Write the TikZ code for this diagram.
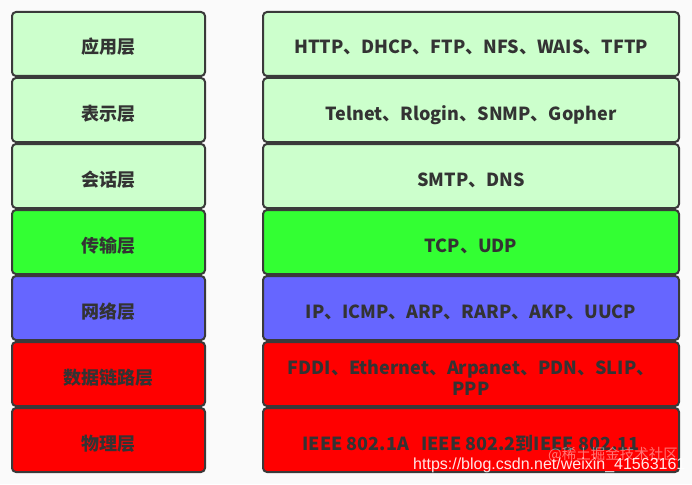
\documentclass[tikz,border=0pt]{standalone}
\usepackage{fontspec}
\setmainfont{Noto Sans CJK SC}
\newfontfamily\urlfont{Liberation Sans}
\usepackage{xcolor}
\usetikzlibrary{positioning}

\definecolor{lightgreen}{HTML}{CCFFCC}
\definecolor{brightgreen}{HTML}{33FF33}
\definecolor{netblue}{HTML}{6666FF}
\definecolor{linkred}{HTML}{FF0000}
\definecolor{textgray}{HTML}{333333}
\definecolor{bordergray}{HTML}{3A3A3A}
\definecolor{bggray}{HTML}{FAFAFA}

\begin{document}
\begin{tikzpicture}[
    cell/.style={draw=bordergray, line width=2pt, rounded corners=4pt, minimum height=64pt,
        text=textgray, font=\fontsize{18}{21}\selectfont\bfseries, align=center,
        text height=20pt, text depth=0pt},
    layerbox/.style={cell, minimum width=193pt},
    protobox/.style={cell, minimum width=416pt}]

    % Background
    \fill[bggray] (0,0) rectangle (692pt,-484pt);
    \useasboundingbox (0,0) rectangle (692pt,-484pt);

    % Layer names
    \node[layerbox, fill=lightgreen, anchor=north west] (app) at (11pt,-11pt) {应用层};
    \node[layerbox, fill=lightgreen, below=0pt of app] (pres) {表示层};
    \node[layerbox, fill=lightgreen, below=0pt of pres] (sess) {会话层};
    \node[layerbox, fill=brightgreen, below=0pt of sess] (trans) {传输层};
    \node[layerbox, fill=netblue, below=0pt of trans] (net) {网络层};
    \node[layerbox, fill=linkred, below=0pt of net] (link) {数据链路层};
    \node[layerbox, fill=linkred, below=0pt of link] (phys) {物理层};

    % Protocols
    \node[protobox, fill=lightgreen, right=56pt of app] (appP) {HTTP、DHCP、FTP、NFS、WAIS、TFTP};
    \node[protobox, fill=lightgreen, right=56pt of pres] (presP) {Telnet、Rlogin、SNMP、Gopher};
    \node[protobox, fill=lightgreen, right=56pt of sess] (sessP) {SMTP、DNS};
    \node[protobox, fill=brightgreen, right=56pt of trans] (transP) {TCP、UDP};
    \node[protobox, fill=netblue, right=56pt of net] (netP) {IP、ICMP、ARP、RARP、AKP、UUCP};
    \node[protobox, fill=linkred, right=56pt of link, text height=43pt] (linkP) {FDDI、Ethernet、Arpanet、PDN、SLIP、\\PPP};
    \node[protobox, fill=linkred, right=56pt of phys] (physP) {IEEE 802.1A\ \ \ IEEE 802.2到IEEE 802.11};

    % Watermark
    \node[anchor=base west, inner sep=0pt, text=white, opacity=0.45,
        font=\fontsize{14.5}{14.5}\selectfont] (mark) at (548pt,-459pt) {@稀土掘金技术社区};
    \node[anchor=base west, inner sep=0pt, text=white, opacity=0.9,
        font=\urlfont\fontsize{16}{16}\selectfont] (url) at (413pt,-469pt) {https://blog.csdn.net/weixin\_41563161};
\end{tikzpicture}
\end{document}
